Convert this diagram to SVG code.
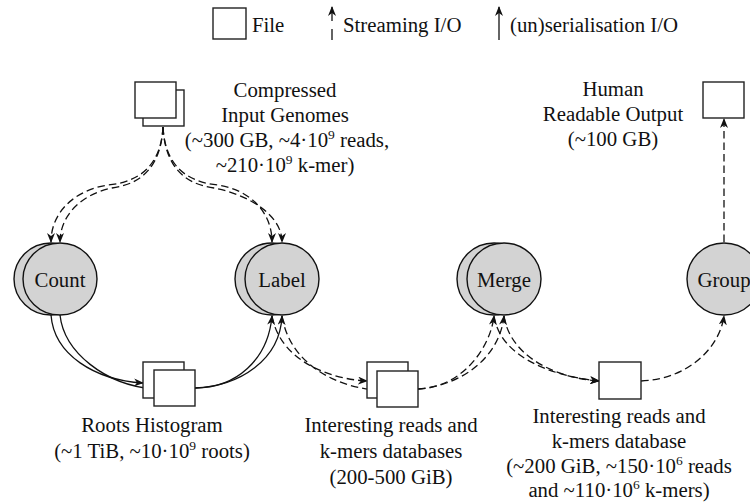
<svg xmlns="http://www.w3.org/2000/svg" width="750" height="502" viewBox="0 0 750 502">
  <style>
    text { font-family: "Liberation Serif", "Times New Roman", serif; font-size: 20.8px; fill: #111; }
    .lbl { text-anchor: middle; }
    .sup { font-size: 13.5px; }
    .file { fill: #fff; stroke: #222; stroke-width: 1.4; }
    .proc { fill: #d3d3d3; stroke: #111; stroke-width: 1.4; }
    .solid { fill: none; stroke: #111; stroke-width: 1.3; }
    .dash { fill: none; stroke: #111; stroke-width: 1.3; stroke-dasharray: 7.5 4; }
  </style>
  <defs>
    <marker id="arrow" viewBox="0 0 10 8" refX="9" refY="4" markerWidth="10" markerHeight="8" markerUnits="userSpaceOnUse" orient="auto">
      <path d="M0,0 L10,4 L0,8 L3,4 z" fill="#111"/>
    </marker>
  </defs>

  <!-- legend -->
  <g id="legend">
    <rect class="file" x="213" y="8" width="33" height="31"/>
    <text x="252" y="32">File</text>
    <line x1="332" y1="40" x2="332" y2="7" class="dash" style="stroke-dasharray: 11 8 20" marker-end="url(#arrow)"/>
    <text x="343" y="32">Streaming I/O</text>
    <line x1="499" y1="40" x2="499" y2="7" class="solid" marker-end="url(#arrow)"/>
    <text x="510" y="32">(un)serialisation I/O</text>
  </g>

  <!-- connectors -->
  <g id="connectors">
    <!-- input genomes to Count and Label -->
    <path class="dash" d="M163,127 C161,165 140,182 108,185 C75,190 51,212 51,242" marker-end="url(#arrow)"/>
    <path class="dash" d="M163,127 C161,166 142,184 112,188 C82,194 60,215 60,242" marker-end="url(#arrow)"/>
    <path class="dash" d="M163,127 C165,165 186,182 218,185 C250,190 272,212 272,242" marker-end="url(#arrow)"/>
    <path class="dash" d="M163,127 C165,166 184,184 214,188 C246,194 282,214 282,242" marker-end="url(#arrow)"/>
    <!-- Count to roots histogram -->
    <path class="solid" d="M51,315 C54,355 95,380 143,383" marker-end="url(#arrow)"/>
    <path class="solid" d="M60,315 C64,352 105,385 154,389" marker-end="url(#arrow)"/>
    <!-- roots histogram to Label -->
    <path class="solid" d="M195,388 C236,388 268,360 272,316" marker-end="url(#arrow)"/>
    <path class="solid" d="M195,388 C240,386 280,360 282,316" marker-end="url(#arrow)"/>
    <!-- Label to interesting databases -->
    <path class="dash" d="M272,316 C280,360 328,379 367,381" marker-end="url(#arrow)"/>
    <path class="dash" d="M282,316 C290,366 340,388 377,390" marker-end="url(#arrow)"/>
    <!-- interesting databases to Merge -->
    <path class="dash" d="M418,389 C460,388 490,350 494,316" marker-end="url(#arrow)"/>
    <path class="dash" d="M418,389 C465,385 500,355 504,316" marker-end="url(#arrow)"/>
    <!-- Merge to merged database -->
    <path class="dash" d="M494,316 C500,356 550,376 599,381" marker-end="url(#arrow)"/>
    <path class="dash" d="M504,316 C510,356 555,378 599,381" marker-end="url(#arrow)"/>
    <!-- merged database to Group -->
    <path class="dash" d="M641,381 C690,379 720,346 724,316" marker-end="url(#arrow)"/>
    <!-- Group to output -->
    <line class="dash" x1="724" y1="242" x2="724" y2="119" marker-end="url(#arrow)"/>
  </g>

  <!-- files -->
  <g id="input-genomes">
    <rect class="file" x="143" y="90" width="41" height="36"/>
    <rect class="file" x="135" y="82" width="41" height="36"/>
    <text class="lbl" x="285" y="97">Compressed</text>
    <text class="lbl" x="285" y="122">Input Genomes</text>
    <text class="lbl" x="287" y="147">(~300 GB, ~4·10<tspan class="sup" dy="-8">9</tspan><tspan dy="8"> reads,</tspan></text>
    <text class="lbl" x="285" y="172">~210·10<tspan class="sup" dy="-8">9</tspan><tspan dy="8"> k-mer)</tspan></text>
  </g>

  <g id="human-output">
    <rect class="file" x="703" y="82" width="41" height="36"/>
    <text class="lbl" x="613" y="96">Human</text>
    <text class="lbl" x="613" y="121">Readable Output</text>
    <text class="lbl" x="613" y="146">(~100 GB)</text>
  </g>

  <g id="roots-histogram">
    <rect class="file" x="143" y="362" width="41" height="36"/>
    <rect class="file" x="154" y="370" width="41" height="36"/>
    <text class="lbl" x="152" y="432">Roots Histogram</text>
    <text class="lbl" x="152" y="458">(~1 TiB, ~10·10<tspan class="sup" dy="-8">9</tspan><tspan dy="8"> roots)</tspan></text>
  </g>

  <g id="interesting-databases">
    <rect class="file" x="367" y="362" width="41" height="36"/>
    <rect class="file" x="377" y="371" width="41" height="36"/>
    <text class="lbl" x="391" y="432">Interesting reads and</text>
    <text class="lbl" x="391" y="458">k-mers databases</text>
    <text class="lbl" x="391" y="484">(200-500 GiB)</text>
  </g>

  <g id="merged-database">
    <rect class="file" x="599" y="362" width="42" height="37"/>
    <text class="lbl" x="619" y="423">Interesting reads and</text>
    <text class="lbl" x="619" y="448">k-mers database</text>
    <text class="lbl" x="619" y="473">(~200 GiB, ~150·10<tspan class="sup" dy="-8">6</tspan><tspan dy="8"> reads</tspan></text>
    <text class="lbl" x="619" y="497">and ~110·10<tspan class="sup" dy="-8">6</tspan><tspan dy="8"> k-mers)</tspan></text>
  </g>

  <!-- processes -->
  <g id="count">
    <ellipse class="proc" cx="51" cy="279" rx="37" ry="36"/>
    <ellipse class="proc" cx="60" cy="279" rx="37" ry="36"/>
    <text class="lbl" x="60" y="287">Count</text>
  </g>
  <g id="label">
    <ellipse class="proc" cx="272" cy="279" rx="37" ry="36"/>
    <ellipse class="proc" cx="282" cy="279" rx="37" ry="36"/>
    <text class="lbl" x="282" y="287">Label</text>
  </g>
  <g id="merge">
    <ellipse class="proc" cx="494" cy="279" rx="37" ry="36"/>
    <ellipse class="proc" cx="504" cy="279" rx="37" ry="36"/>
    <text class="lbl" x="504" y="287">Merge</text>
  </g>
  <g id="group">
    <ellipse class="proc" cx="724" cy="279" rx="37" ry="36"/>
    <text class="lbl" x="724" y="287">Group</text>
  </g>
</svg>
